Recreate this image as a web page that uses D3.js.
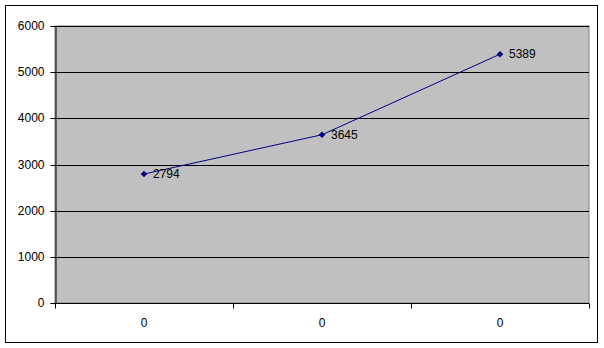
<!DOCTYPE html>
<html>
<head>
<meta charset="utf-8">
<script src="https://cdn.jsdelivr.net/npm/d3@7"></script>
<style>
  body { margin: 0; background: #fff; }
  svg text { font-family: Arial, 'Liberation Sans', sans-serif; font-size: 12px; fill: #000; }
</style>
</head>
<body>
<div id="graf"></div>
<script>
// datos
const categorias = ['a', 'b', 'c']
const etiquetasX = ['0', '0', '0']
const valores = [2794, 3645, 5389]
const ticksY = [0, 1000, 2000, 3000, 4000, 5000, 6000]

const anchoTotal = 604
const altoTotal = 348

const svg = d3.select('#graf')
  .append('svg')
  .attr('width', anchoTotal)
  .attr('height', altoTotal)

// marco exterior
svg.append('rect')
  .attr('x', 5.5)
  .attr('y', 5.5)
  .attr('width', 592)
  .attr('height', 337)
  .attr('fill', '#fff')
  .attr('stroke', '#000')

const margin = { top: 26, left: 55, right: 15, bottom: 45 }
const ancho = 589 - margin.left
const alto = 303 - margin.top

const g = svg.append('g')
  .attr('transform', `translate(${margin.left}, ${margin.top})`)

// escaladores
const x = d3.scaleBand().domain(categorias).range([0, ancho])
const y = d3.scaleLinear().domain([0, 6000]).range([alto, 0])

// fondo del área
g.append('rect')
  .attr('x', 0)
  .attr('y', 0)
  .attr('width', ancho)
  .attr('height', alto)
  .attr('fill', '#c0c0c0')
  .attr('stroke', '#808080')

// líneas de la rejilla
g.append('g')
  .selectAll('line')
  .data(ticksY.slice(1))
  .join('line')
  .attr('x1', 0)
  .attr('x2', ancho)
  .attr('y1', (d) => Math.round(y(d)) + 0.5)
  .attr('y2', (d) => Math.round(y(d)) + 0.5)
  .attr('stroke', '#000')

// eje Y
const ejeY = g.append('g')
  .attr('transform', 'translate(0.5, 0)')
  .call(d3.axisLeft(y).tickValues(ticksY).tickSize(5).tickPadding(6).tickFormat(d3.format('d')))
ejeY.select('.domain').attr('stroke', '#000')
ejeY.selectAll('.tick line').attr('stroke', '#000')
ejeY.selectAll('text').attr('fill', '#000').style('font-size', '12px').style('font-family', 'Arial, Liberation Sans, sans-serif')
ejeY.selectAll('.tick').attr('transform', (d) => `translate(0, ${Math.round(y(d)) + 0.5})`)

// eje X
const ejeX = g.append('g').attr('transform', `translate(0, ${alto + 0.5})`)
ejeX.append('line')
  .attr('x1', 0).attr('x2', ancho)
  .attr('stroke', '#000')
ejeX.selectAll('line.tk')
  .data([0, ...categorias.map((c) => x(c) + x.bandwidth())])
  .join('line')
  .attr('class', 'tk')
  .attr('x1', (d) => Math.round(d) + 0.5)
  .attr('x2', (d) => Math.round(d) + 0.5)
  .attr('y1', 0)
  .attr('y2', 5)
  .attr('stroke', '#000')
ejeX.selectAll('text')
  .data(categorias)
  .join('text')
  .attr('x', (d) => x(d) + x.bandwidth() / 2)
  .attr('y', 23)
  .attr('text-anchor', 'middle')
  .text((d, i) => etiquetasX[i])

// serie
const linea = d3.line()
  .x((d, i) => x(categorias[i]) + x.bandwidth() / 2)
  .y((d) => y(d))

g.append('path')
  .datum(valores)
  .attr('d', linea)
  .attr('fill', 'none')
  .attr('stroke', '#000080')
  .attr('stroke-width', 1)

g.selectAll('path.marca')
  .data(valores)
  .join('path')
  .attr('class', 'marca')
  .attr('d', d3.symbol(d3.symbolDiamond2, 28))
  .attr('transform', (d, i) => `translate(${x(categorias[i]) + x.bandwidth() / 2}, ${y(d)})`)
  .attr('fill', '#000080')

g.selectAll('text.etiqueta')
  .data(valores)
  .join('text')
  .attr('class', 'etiqueta')
  .attr('x', (d, i) => x(categorias[i]) + x.bandwidth() / 2 + 9)
  .attr('y', (d) => y(d) + 4)
  .text((d) => d)
</script>
</body>
</html>
